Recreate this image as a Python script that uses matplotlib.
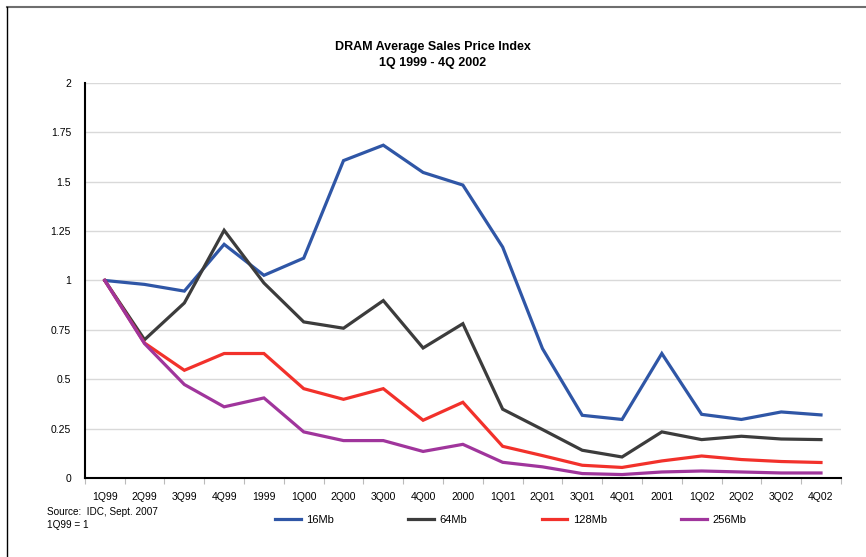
import matplotlib
matplotlib.use("Agg")
import matplotlib.pyplot as plt
from matplotlib.lines import Line2D

plt.rcParams['font.family'] = ['Liberation Sans', 'DejaVu Sans']

# quarters on the x axis
quarters = ["1Q99", "2Q99", "3Q99", "4Q99", "1999", "1Q00", "2Q00", "3Q00", "4Q00", "2000",
            "1Q01", "2Q01", "3Q01", "4Q01", "2001", "1Q02", "2Q02", "3Q02", "4Q02"]

# price index per density (1Q99 = 1)
mb16 = [1.0, 0.98, 0.946, 1.183, 1.026, 1.113, 1.607, 1.685, 1.547, 1.483,
        1.169, 0.655, 0.317, 0.296, 0.63, 0.322, 0.296, 0.334, 0.319]
mb64 = [1.0, 0.70, 0.886, 1.254, 0.987, 0.79, 0.758, 0.898, 0.658, 0.781,
        0.348, 0.245, 0.14, 0.106, 0.233, 0.194, 0.211, 0.197, 0.194]
mb128 = [1.0, 0.683, 0.545, 0.63, 0.63, 0.452, 0.398, 0.452, 0.292, 0.383,
         0.16, 0.113, 0.064, 0.053, 0.086, 0.111, 0.093, 0.083, 0.078]
mb256 = [1.0, 0.68, 0.473, 0.36, 0.405, 0.233, 0.189, 0.189, 0.134, 0.17,
         0.079, 0.056, 0.022, 0.017, 0.03, 0.035, 0.03, 0.025, 0.025]

series = [("16Mb", mb16, "#2f56a6"),
          ("64Mb", mb64, "#3c3c3c"),
          ("128Mb", mb128, "#f2312b"),
          ("256Mb", mb256, "#a0359c")]

fig = plt.figure(figsize=(8.66, 5.57), dpi=100)
ax = fig.add_axes([0.098, 0.142, 0.873, 0.709])

x = range(len(quarters))
for name, vals, col in series:
    ax.plot(x, vals, color=col, lw=2.3, label=name, solid_joinstyle='miter')

ax.set_xlim(-0.5, len(quarters) - 0.5)
ax.set_ylim(0, 2)
ax.set_yticks([0, 0.25, 0.5, 0.75, 1, 1.25, 1.5, 1.75, 2])
ax.set_yticklabels(["0", "0.25", "0.5", "0.75", "1", "1.25", "1.5", "1.75", "2"])
ax.set_xticks(list(x))
ax.set_xticklabels(quarters)
# tick marks sit between the categories
ax.set_xticks([i - 0.5 for i in range(len(quarters) + 1)], minor=True)
ax.tick_params(axis='x', which='major', length=0, pad=10, labelsize=7.5)
ax.tick_params(axis='x', which='minor', length=4, color='#bbbbbb', width=0.8)
ax.tick_params(axis='y', length=0, pad=10, labelsize=7.5)

ax.grid(axis='y', color='#d9d9d9', lw=1)
ax.set_axisbelow(True)
for s in ['top', 'right']:
    ax.spines[s].set_visible(False)
for s in ['left', 'bottom']:
    ax.spines[s].set_linewidth(1.5)
    ax.spines[s].set_color('black')

fig.text(0.5, 0.916, "DRAM Average Sales Price Index", ha='center', va='center',
         fontsize=9, fontweight='bold')
fig.text(0.5, 0.886, "1Q 1999 - 4Q 2002", ha='center', va='center',
         fontsize=9, fontweight='bold')

fig.text(0.054, 0.081, "Source:  IDC, Sept. 2007", fontsize=7.2, va='center')
fig.text(0.054, 0.057, "1Q99 = 1", fontsize=7.2, va='center')

fig.legend(loc='center left', bbox_to_anchor=(0.306, 0.066), ncol=4, frameon=False,
           fontsize=8, handlelength=2.3, handletextpad=0.5, columnspacing=6.7)

# page border bits
fig.add_artist(Line2D([0.008, 1.0], [0.987, 0.987], color='#6e6e6e', lw=1.5))
fig.add_artist(Line2D([0.008, 0.008], [0.0, 0.987], color='black', lw=1.0))

fig.savefig("out.png", dpi=100)
